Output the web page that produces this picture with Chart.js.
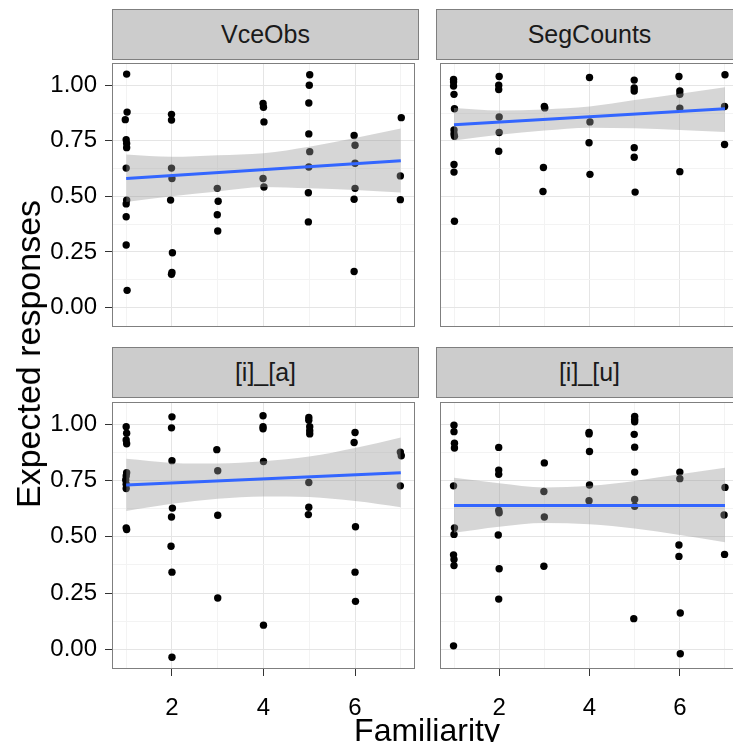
<!DOCTYPE html>
<html>
<head>
<meta charset="utf-8">
<script src="https://cdn.jsdelivr.net/npm/chart.js@4.4.0/dist/chart.umd.min.js"></script>
<style>
  html, body { margin: 0; padding: 0; background: #fff; overflow: hidden; }
  body { width: 733px; height: 742px; position: relative; font-family: "Liberation Sans", Arial, sans-serif; }
  canvas { position: absolute; }
  .strip { position: absolute; box-sizing: border-box; height: 51px; background: #cccccc; border: 1px solid #7f7f7f;
           color: #1a1a1a; font-size: 25px; line-height: 49px; text-align: center; white-space: nowrap; }
  .title { position: absolute; color: #000; white-space: nowrap; }
</style>
</head>
<body>
<div class="strip" id="s0" style="left:112px;top:9px;width:307px"></div>
<div class="strip" id="s1" style="left:436px;top:9px;width:307px"></div>
<div class="strip" id="s2" style="left:112px;top:347px;width:307px"></div>
<div class="strip" id="s3" style="left:436px;top:347px;width:307px"></div>

<canvas id="p0" width="419" height="272" style="left:0;top:59px"></canvas>
<canvas id="p1" width="307" height="272" style="left:436px;top:59px"></canvas>
<canvas id="p2" width="419" height="344" style="left:0;top:398px"></canvas>
<canvas id="p3" width="307" height="344" style="left:436px;top:398px"></canvas>

<div class="title" id="ytitle" style="left:28px;top:354px;font-size:34px;line-height:34px;transform:translate(-50%,-50%) rotate(-90deg)">Expected responses</div>
<div class="title" id="xtitle" style="left:427px;top:714px;font-size:32px;line-height:32px;transform:translateX(-50%)">Familiarity</div>

<script>
const panelNames = ['VceObs', 'SegCounts', '[i]_[a]', '[i]_[u]'];
const xTicks = [2, 4, 6];
const xMinor = [1, 3, 5, 7];
const yTicks = [0, 0.25, 0.5, 0.75, 1];
const yMinor = [0.125, 0.375, 0.625, 0.875];

// VceObs
const vceObsX = [1.01, 1.02, 0.98, 1.00, 1.01, 1.01, 1.00, 1.01, 1.00, 1.00, 1.00, 1.02,
                 1.99, 1.99, 1.99, 2.00, 1.97, 2.01, 2.00, 1.99,
                 2.99, 3.01, 2.99, 3.00,
                 3.99, 4.00, 4.01, 3.99, 4.01,
                 5.01, 5.00, 4.99, 4.99, 5.01, 4.99, 4.98, 4.98,
                 5.98, 6.00, 6.00, 6.00, 5.98, 5.98,
                 7.01, 6.99, 6.99];
const vceObsY = [1.050, 0.879, 0.845, 0.755, 0.738, 0.719, 0.627, 0.483, 0.466, 0.408, 0.281, 0.077,
                 0.869, 0.843, 0.627, 0.580, 0.483, 0.246, 0.157, 0.149,
                 0.536, 0.478, 0.417, 0.344,
                 0.918, 0.901, 0.835, 0.580, 0.542,
                 1.047, 1.000, 0.920, 0.781, 0.701, 0.632, 0.516, 0.385,
                 0.774, 0.730, 0.649, 0.536, 0.487, 0.162,
                 0.854, 0.592, 0.485];

// SegCounts
const segCountsX = [0.99, 0.99, 0.99, 1.00, 1.01, 1.00, 1.00, 1.01, 1.00, 1.00, 1.01,
                    2.00, 1.99, 1.99, 2.00, 2.00, 1.99,
                    3.00, 3.01, 2.98, 2.97,
                    4.00, 4.01, 3.99, 4.01,
                    4.99, 4.99, 4.99, 4.99, 4.99, 5.01,
                    5.98, 6.00, 6.00, 6.00, 6.00,
                    7.00, 6.99, 6.99];
const segCountsY = [1.026, 1.015, 0.996, 0.959, 0.894, 0.799, 0.781, 0.770, 0.643, 0.609, 0.388,
                    1.039, 1.000, 0.981, 0.857, 0.787, 0.703,
                    0.904, 0.898, 0.630, 0.522,
                    1.035, 0.835, 0.741, 0.599,
                    1.023, 0.988, 0.974, 0.719, 0.676, 0.519,
                    1.039, 0.974, 0.959, 0.897, 0.611,
                    1.047, 0.904, 0.733];

// [i]_[a]
const iaX = [1.00, 1.01, 1.00, 1.01, 1.01, 1.00, 0.99, 1.00, 1.00, 1.00, 1.01,
             2.00, 1.99, 2.00, 2.01, 1.99, 1.98, 2.00, 2.00,
             2.98, 3.00, 3.00, 3.00,
             3.99, 3.99, 3.99, 4.00, 4.00,
             4.99, 4.99, 5.01, 5.01, 5.01, 4.99, 4.99, 4.98,
             6.00, 5.98, 6.01, 6.00, 6.01,
             6.99, 7.01, 6.99];
const iaY = [0.990, 0.961, 0.931, 0.914, 0.785, 0.771, 0.753, 0.734, 0.715, 0.540, 0.533,
             1.034, 0.985, 0.839, 0.628, 0.588, 0.458, 0.343, -0.036,
             0.888, 0.794, 0.596, 0.228,
             1.039, 0.990, 0.981, 0.835, 0.107,
             1.031, 1.019, 0.990, 0.972, 0.958, 0.742, 0.632, 0.599,
             0.964, 0.920, 0.545, 0.343, 0.213,
             0.877, 0.861, 0.727];

// [i]_[u]
const iuX = [1.00, 1.00, 1.01, 1.01, 0.99, 1.01, 1.00, 0.99, 1.00, 1.00, 0.99,
             1.99, 1.99, 1.99, 1.99, 2.00, 1.98, 2.00, 1.99,
             3.00, 2.99, 3.00, 2.99,
             3.99, 3.99, 4.00, 4.00, 3.99,
             5.00, 5.00, 5.00, 4.99, 5.00, 5.00, 5.00, 5.00, 4.98,
             6.00, 6.00, 5.98, 5.98, 6.01, 6.01,
             7.00, 6.98, 6.99];
const iuY = [0.997, 0.968, 0.917, 0.895, 0.727, 0.540, 0.511, 0.420, 0.399, 0.372, 0.015,
             0.898, 0.797, 0.778, 0.618, 0.607, 0.508, 0.358, 0.223,
             0.829, 0.702, 0.588, 0.369,
             0.964, 0.958, 0.880, 0.731, 0.661,
             1.036, 1.022, 1.012, 0.956, 0.899, 0.788, 0.666, 0.636, 0.136,
             0.788, 0.759, 0.464, 0.413, 0.161, -0.020,
             0.720, 0.597, 0.422];

// fitted lines and their confidence bands
const fitX = [1, 7];
const vceObsFit = [0.580, 0.660];
const segCountsFit = [0.822, 0.894];
const iaFit = [0.731, 0.785];
const iuFit = [0.640, 0.640];

const bandX = [1, 2, 3, 4, 5, 6, 7];
const vceObsUpper = [0.688, 0.678, 0.685, 0.694, 0.723, 0.762, 0.805];
const vceObsLower = [0.474, 0.500, 0.522, 0.542, 0.536, 0.529, 0.517];
const segCountsUpper = [0.897, 0.886, 0.891, 0.904, 0.933, 0.962, 0.991];
const segCountsLower = [0.751, 0.777, 0.796, 0.809, 0.806, 0.799, 0.789];
const iaUpper = [0.847, 0.829, 0.826, 0.836, 0.857, 0.895, 0.942];
const iaLower = [0.615, 0.647, 0.669, 0.680, 0.677, 0.659, 0.632];
const iuUpper = [0.763, 0.739, 0.720, 0.727, 0.749, 0.778, 0.807];
const iuLower = [0.518, 0.545, 0.562, 0.556, 0.537, 0.508, 0.476];

const FONT = '"Liberation Sans", Arial, sans-serif';
const MAJOR = '#e5e5e5';
const MINOR = '#f3f3f3';

const pts = (xs, ys) => xs.map((x, i) => ({ x: x, y: ys[i] }));

const panelBorder = {
  id: 'panelBorder',
  afterDraw(chart) {
    const { ctx, chartArea: a } = chart;
    ctx.save();
    ctx.strokeStyle = '#7f7f7f';
    ctx.lineWidth = 1;
    ctx.strokeRect(a.left + 0.5, a.top + 0.5, a.right - a.left - 1, a.bottom - a.top - 1);
    ctx.restore();
  }
};

function zeroPad(s) {
  s.paddingTop = 0; s.paddingBottom = 0; s.paddingLeft = 0; s.paddingRight = 0;
}

function panel(id, xs, ys, fit, upper, lower, showX, showY) {
  new Chart(document.getElementById(id), {
    type: 'scatter',
    data: {
      datasets: [
        { data: pts(fitX, fit), showLine: true, borderColor: '#3366FF', borderWidth: 3, pointRadius: 0, order: 0 },
        { data: pts(bandX, upper), showLine: true, borderColor: 'rgba(0,0,0,0)', pointRadius: 0,
          fill: '+1', backgroundColor: 'rgba(153,153,153,0.4)', cubicInterpolationMode: 'monotone', order: 1 },
        { data: pts(bandX, lower), showLine: true, borderColor: 'rgba(0,0,0,0)', pointRadius: 0,
          cubicInterpolationMode: 'monotone', order: 1 },
        { data: pts(xs, ys), backgroundColor: '#000', borderColor: '#000', borderWidth: 0, pointRadius: 3.7, order: 2 }
      ]
    },
    options: {
      responsive: false,
      animation: false,
      devicePixelRatio: 1,
      events: [],
      layout: { padding: 0 },
      plugins: { legend: { display: false }, tooltip: { enabled: false } },
      scales: {
        x: {
          type: 'linear', min: 0.69, max: 7.31,
          afterBuildTicks: s => { s.ticks = xMinor.concat(xTicks).sort((a, b) => a - b).map(v => ({ value: v })); },
          afterFit: s => { s.height = showX ? 73 : 0; zeroPad(s); },
          border: { display: false },
          grid: {
            color: c => xTicks.includes(c.tick.value) ? MAJOR : MINOR,
            lineWidth: 1, drawTicks: showX, tickLength: 7,
            tickColor: c => xTicks.includes(c.tick.value) ? '#333' : 'rgba(0,0,0,0)'
          },
          ticks: {
            display: showX, autoSkip: false, maxRotation: 0, padding: 18, color: '#000',
            font: { family: FONT, size: 24 },
            callback: v => xTicks.includes(v) ? String(v) : ''
          }
        },
        y: {
          type: 'linear', min: -0.088, max: 1.10,
          afterBuildTicks: s => { s.ticks = yMinor.concat(yTicks).sort((a, b) => a - b).map(v => ({ value: v })); },
          afterFit: s => { s.width = showY ? 112 : 0; zeroPad(s); },
          border: { display: false },
          grid: {
            color: c => yTicks.includes(c.tick.value) ? MAJOR : MINOR,
            lineWidth: 1, drawTicks: showY, tickLength: 7,
            tickColor: c => yTicks.includes(c.tick.value) ? '#333' : 'rgba(0,0,0,0)'
          },
          ticks: {
            display: showY, autoSkip: false, padding: 8, color: '#000',
            font: { family: FONT, size: 24 },
            callback: v => yTicks.includes(v) ? v.toFixed(2) : ''
          }
        }
      }
    },
    plugins: [panelBorder]
  });
}

panelNames.forEach((n, i) => { document.getElementById('s' + i).textContent = n; });

panel('p0', vceObsX, vceObsY, vceObsFit, vceObsUpper, vceObsLower, false, true);
panel('p1', segCountsX, segCountsY, segCountsFit, segCountsUpper, segCountsLower, false, false);
panel('p2', iaX, iaY, iaFit, iaUpper, iaLower, true, true);
panel('p3', iuX, iuY, iuFit, iuUpper, iuLower, true, false);
</script>
</body>
</html>
